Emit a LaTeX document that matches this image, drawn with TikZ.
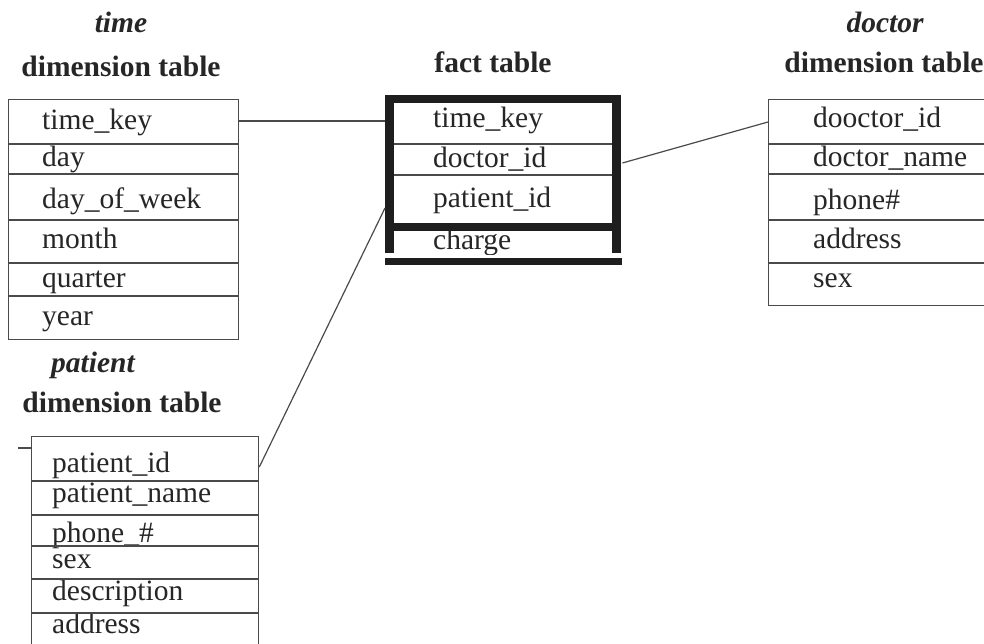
\documentclass[tikz,border=0pt]{standalone}
\usepackage{fontspec}
\setmainfont{Liberation Serif}
\definecolor{inkgray}{HTML}{262626}
\definecolor{linegray}{HTML}{4A4A4A}
\definecolor{heavygray}{HTML}{1E1E1E}
\newcommand\fieldfont{\fontsize{29.5}{34}\selectfont}
\newcommand\titlefont{\fontsize{29.5}{34}\selectfont\bfseries}
\newcommand\titleitfont{\fontsize{29.5}{34}\selectfont\bfseries\itshape}
\begin{document}
\begin{tikzpicture}[x=1pt,y=-1pt,
  tbl/.style={draw=linegray, line width=1.3pt, rectangle, inner sep=0pt, anchor=north west},
  rowline/.style={draw=linegray, line width=1.3pt},
  fld/.style={anchor=base west, inner sep=0pt, text=inkgray, font=\fieldfont},
  ttl/.style={anchor=base, inner sep=0pt, text=inkgray, font=\titlefont},
  ttlit/.style={anchor=base, inner sep=0pt, text=inkgray, font=\titleitfont},
  link/.style={draw=linegray, line width=1.2pt},
  heavy/.style={fill=heavygray, draw=none}]
\clip (0,0) rectangle (984,644);
\fill[white] (0,0) rectangle (984,644);

% ---- time dimension table ----
\node[ttlit] (timename) at (121,33) {time};
\node[ttl] (timedim) at (121,77) {dimension table};
\node[tbl, minimum width=230pt, minimum height=240pt] (timetbl) at (8,99) {};
\foreach \y in {144,174,220,263,296}
  \draw[rowline] (timetbl.west |- 0,\y) -- (timetbl.east |- 0,\y);
\node[fld] (t1) at (42,130) {time\_key};
\node[fld] (t2) at (42,167) {day};
\node[fld] (t3) at (42,209) {day\_of\_week};
\node[fld] (t4) at (42,248) {month};
\node[fld] (t5) at (42,287) {quarter};
\node[fld] (t6) at (42,325) {year};

% ---- fact table ----
\node[ttl] (facttitle) at (493,73) {fact table};
\node[inner sep=0pt, minimum width=237pt, minimum height=170pt, anchor=north west] (fact) at (385,95) {};
\fill[heavy] (385,95) rectangle (621,103);
\fill[heavy] (385,95) rectangle (394,253);
\fill[heavy] (612,95) rectangle (621,253);
\fill[heavy] (385,223) rectangle (621,231);
\fill[heavy] (385,258) rectangle (622,265);
\draw[rowline] (394,144) -- (612,144);
\draw[rowline] (394,175) -- (612,175);
\node[fld] (f1) at (433,128) {time\_key};
\node[fld] (f2) at (433,168) {doctor\_id};
\node[fld] (f3) at (433,208) {patient\_id};
\begin{scope}
  \clip (394,231) rectangle (612,254);
  \node[fld] (f4) at (433,250) {charge};
\end{scope}

% ---- doctor dimension table ----
\node[ttlit] (docname) at (885,33) {doctor};
\node[ttl] (docdim) at (884,73) {dimension table};
\node[tbl, minimum width=260pt, minimum height=206pt] (doctbl) at (768,99) {};
\foreach \y in {144,174,220,263}
  \draw[rowline] (doctbl.west |- 0,\y) -- (doctbl.east |- 0,\y);
\node[fld] (d1) at (813,128) {dooctor\_id};
\node[fld] (d2) at (813,167) {doctor\_name};
\node[fld] (d3) at (813,210) {phone\#};
\node[fld] (d4) at (813,248) {address};
\node[fld] (d5) at (813,287) {sex};

% ---- patient dimension table ----
\node[ttlit] (patname) at (93,372) {patient};
\node[ttl] (patdim) at (122,412) {dimension table};
\node[tbl, minimum width=227pt, minimum height=240pt] (pattbl) at (31,436) {};
\node[fld] (p1) at (52,472) {patient\_id};
\node[fld] (p2) at (52,502) {patient\_name};
\node[fld] (p3) at (52,542) {phone\_\#};
\node[fld] (p4) at (52,568) {sex};
\node[fld] (p5) at (52,600) {description};
\node[fld] (p6) at (52,633) {address};
\foreach \y in {481,515,546,579,613}
  \draw[rowline] (pattbl.west |- 0,\y) -- (pattbl.east |- 0,\y);
\coordinate (tick) at (18,448);
\draw[link] (tick) -- (pattbl.west |- tick);

% ---- connectors ----
\draw[link] (timetbl.east |- 0,121) -- (fact.west |- 0,121);
\draw[link] (fact.east |- 0,163) -- (doctbl.west |- 0,122);
\draw[link] (fact.west |- 0,208) -- (pattbl.east |- 0,467);
\end{tikzpicture}
\end{document}
